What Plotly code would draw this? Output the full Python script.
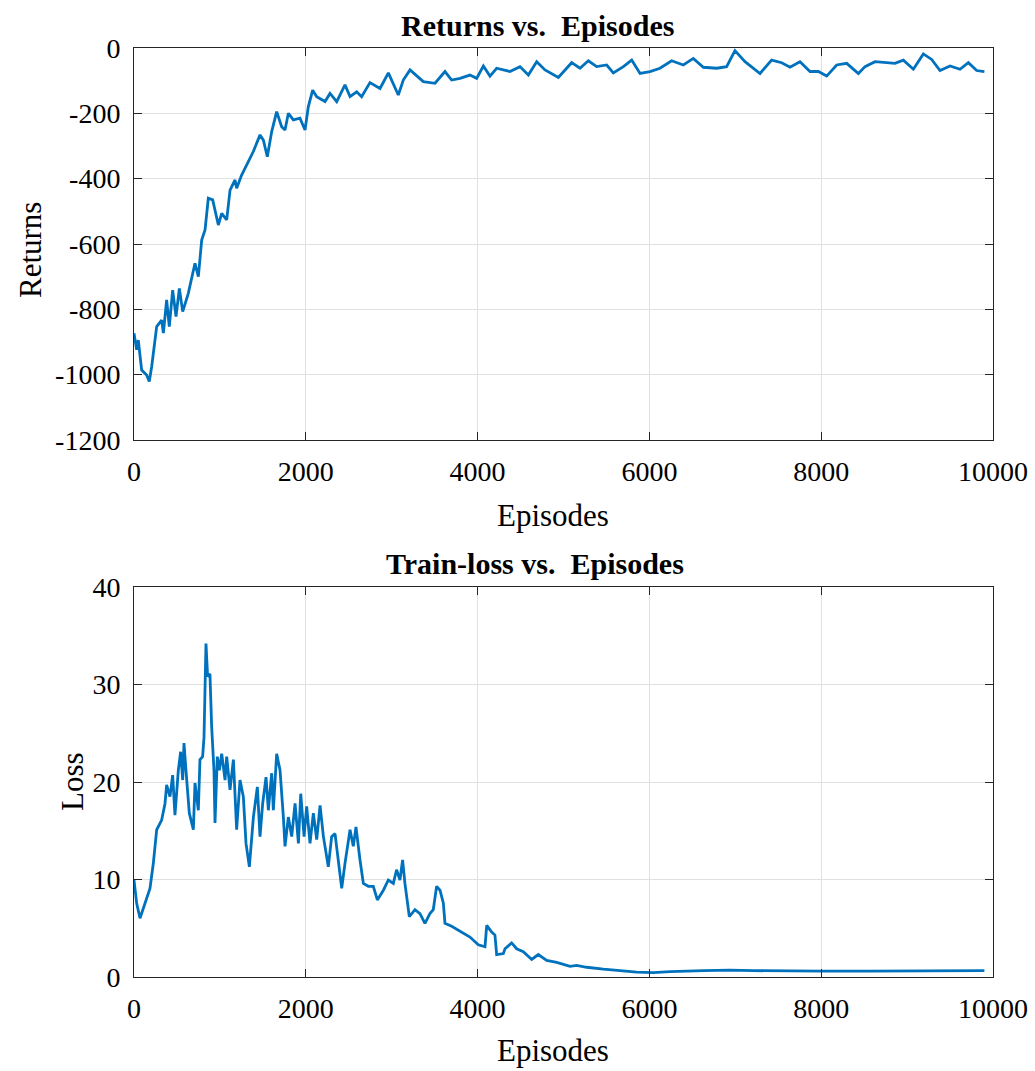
import plotly.graph_objects as go

# ---- Returns vs. Episodes ----
ret_episodes = [0, 31, 50, 89, 147, 178, 206, 264, 322, 342, 380, 411, 450, 489, 528, 567, 632, 671, 710, 749,
                788, 827, 865, 916, 982, 1021, 1079, 1118, 1176, 1195, 1253, 1331, 1389, 1467, 1506, 1552, 1603,
                1661, 1719, 1758, 1797, 1855, 1932, 1991, 2029, 2080, 2127, 2224, 2282, 2360, 2456, 2515, 2592,
                2650, 2747, 2864, 2961, 3077, 3135, 3213, 3290, 3368, 3504, 3620, 3698, 3795, 3911,
                3989, 4067, 4144, 4222, 4377, 4493, 4591, 4688, 4785, 4940, 5095, 5192, 5289, 5386, 5503, 5580,
                5697, 5794, 5891, 6007, 6123, 6259, 6395, 6511, 6628, 6783, 6899, 6996, 7113, 7288, 7423, 7540,
                7637, 7753, 7870, 7967, 8064, 8180, 8297, 8433, 8510, 8627, 8723, 8859, 8956, 9073, 9189, 9286,
                9383, 9500, 9616, 9713, 9810, 9900]
returns = [-873, -924, -894, -986, -1001, -1021, -975, -853, -833, -873, -771, -853, -741, -822, -736, -807, -751,
           -700, -659, -700, -588, -557, -460, -465, -542, -506, -526, -435, -404, -429, -389, -348, -317, -266,
           -282, -333, -256, -195, -241, -251, -200, -220, -215, -251, -180, -129, -149, -164, -139, -164, -113,
           -149, -134, -149, -106, -124, -76, -144, -98, -67, -86, -103, -108, -72, -98, -93, -83,
           -93, -55, -86, -62, -72, -57, -83, -42, -67, -90, -45, -62, -39, -57, -52, -76,
           -57, -37, -78, -72, -62, -39, -52, -32, -59, -62, -57, -8, -42, -78, -37, -45,
           -59, -42, -72, -72, -86, -52, -47, -78, -57, -42, -45, -47, -37, -65, -18, -35,
           -69, -55, -65, -45, -69, -72]

# ---- Train-loss vs. Episodes ----
loss_episodes = [0, 31, 70, 128, 186, 225, 264, 322, 361, 380, 419, 450, 477, 516, 543, 567, 582, 605, 644, 691,
                 710, 749, 768, 799, 815, 838, 857, 884, 904, 931, 943, 970, 994, 1021, 1060, 1079, 1118, 1157,
                 1195, 1234, 1273, 1304, 1343, 1390, 1436, 1467, 1498, 1537, 1564, 1603, 1622, 1661, 1700, 1739,
                 1758, 1797, 1836, 1875, 1914, 1941, 1980, 2010, 2049, 2088, 2127, 2166, 2205, 2262, 2301, 2340,
                 2379, 2418, 2457, 2515, 2553, 2584, 2631, 2670, 2728, 2786, 2833, 2903, 2961, 3019, 3057, 3096,
                 3127, 3154, 3205, 3271, 3329, 3387, 3445, 3484, 3523, 3562, 3601, 3620, 3698, 3775, 3833, 3911,
                 4008, 4086, 4106, 4164, 4202, 4222, 4300, 4319, 4396, 4455, 4532, 4630, 4707, 4804, 4921, 5076,
                 5153, 5270, 5464, 5658, 5852, 6046, 6240, 6628, 6938, 7210, 7598, 7986, 8568, 9150, 9810, 9900]
loss = [9.95, 7.56, 6.02, 7.56, 9.09, 11.66, 15.1, 16.1, 17.8, 19.7, 18.5, 20.7, 16.6, 21.2, 23.1, 20.2, 24.0, 21.2,
        16.8, 15.1, 19.9, 17.1, 22.3, 22.6, 24.6, 34.2, 30.8, 31.1, 25.7, 21.2, 15.8, 22.6, 21.2, 22.9, 20.2, 22.6,
        19.2, 22.3, 15.1, 20.2, 18.5, 13.7, 11.3, 16.4, 19.5, 14.4, 17.8, 20.5, 17.1, 20.9, 17.1, 22.9, 21.2, 16.4,
        13.4, 16.4, 14.4, 17.8, 13.7, 18.8, 14.4, 17.5, 13.7, 16.8, 14.1, 17.6, 14.4, 11.3, 14.4, 14.7,
        11.7, 9.1, 11.7, 15.1, 13.4, 15.4, 12.0, 9.6, 9.3, 9.3, 7.9, 8.9, 9.95, 9.6, 11.0, 9.95,
        12.0, 9.6, 6.2, 6.9, 6.5, 5.5, 6.5, 6.9, 9.3, 8.9, 7.6, 5.5, 5.2, 4.8, 4.5, 4.1,
        3.3, 3.1, 5.3, 4.6, 4.3, 2.3, 2.4, 2.9, 3.5, 2.9, 2.6, 1.8, 2.3, 1.7, 1.5, 1.1,
        1.2, 1.0, 0.8, 0.65, 0.5, 0.45, 0.55, 0.65, 0.7, 0.65, 0.6, 0.6, 0.6, 0.65, 0.65, 0.65]

x_ticks = [0, 2000, 4000, 6000, 8000, 10000]
x_tick_text = ["0", "2000", "4000", "6000", "8000", "10000"]
ret_ticks = [-1200, -1000, -800, -600, -400, -200, 0]
ret_tick_text = ["-1200", "-1000", "-800", "-600", "-400", "-200", "0"]
loss_ticks = [0, 10, 20, 30, 40]
loss_tick_text = ["0", "10", "20", "30", "40"]

W, H = 1035, 1071
LINE = "#0072BD"
AX = "#262626"
GRID = "#e0e0e0"
FONT = "Liberation Serif"

fig = go.Figure()
fig.add_trace(go.Scatter(x=ret_episodes, y=returns, mode="lines",
                         line=dict(color=LINE, width=2.8), xaxis="x", yaxis="y", showlegend=False))
fig.add_trace(go.Scatter(x=loss_episodes, y=loss, mode="lines",
                         line=dict(color=LINE, width=2.8), xaxis="x2", yaxis="y2", showlegend=False))

def px_x(p):
    return p / W

def px_y(p):
    return 1 - p / H

common = dict(showline=True, linecolor=AX, linewidth=1, mirror="ticks", ticks="inside",
              ticklen=8, tickcolor=AX, tickwidth=1, showgrid=True, gridcolor=GRID, gridwidth=1,
              zeroline=False, automargin=False,
              tickfont=dict(family=FONT, size=28, color="#000000"))

fig.update_layout(
    width=W, height=H, autosize=False,
    margin=dict(l=0, r=0, t=0, b=0, autoexpand=False),
    paper_bgcolor="white", plot_bgcolor="white",
    xaxis=dict(domain=[px_x(134), px_x(993)], range=[0, 10000], anchor="y",
               tickvals=x_ticks, ticktext=x_tick_text, ticklabelstandoff=6, **common),
    yaxis=dict(domain=[px_y(440), px_y(48)], range=[-1200, 0], anchor="x",
               tickvals=ret_ticks, ticktext=ret_tick_text, ticklabelstandoff=7, **common),
    xaxis2=dict(domain=[px_x(134), px_x(993)], range=[0, 10000], anchor="y2",
                tickvals=x_ticks, ticktext=x_tick_text, ticklabelstandoff=6, **common),
    yaxis2=dict(domain=[px_y(977), px_y(587)], range=[0, 40], anchor="x2",
                tickvals=loss_ticks, ticktext=loss_tick_text, ticklabelstandoff=7, **common),
)

def note(text, x, y, size=29, bold=False, angle=0):
    fig.add_annotation(text=f"<b>{text}</b>" if bold else text, xref="paper", yref="paper",
                       x=px_x(x), y=px_y(y), xanchor="center", yanchor="middle", showarrow=False,
                       textangle=angle, font=dict(family=FONT, size=size, color="#000000"))

note("Returns vs.  Episodes", 537, 25, size=30, bold=True)
note("Train-loss vs.  Episodes", 535, 563, size=30, bold=True)
note("Episodes", 553, 515, size=31)
note("Episodes", 553, 1050, size=31)
note("Returns", 30, 250, size=31, angle=-90)
note("Loss", 72, 782, size=31, angle=-90)

fig.write_html("out.html")
